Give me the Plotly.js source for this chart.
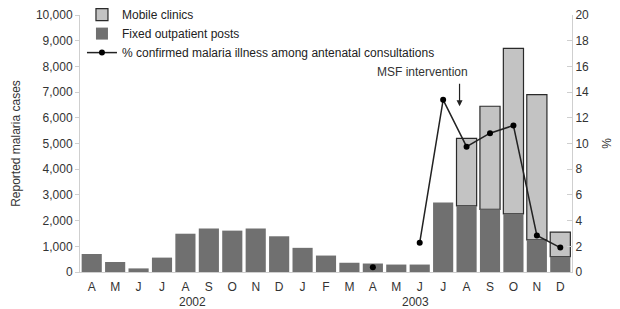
<!DOCTYPE html>
<html><head><meta charset="utf-8">
<script src="https://cdn.plot.ly/plotly-3.0.1.min.js"></script>
<style>html,body{margin:0;padding:0;background:#fff}#c{width:620px;height:309px}</style>
</head><body><div id="c"></div>
<script>
const monthLabels = ["A","M","J","J","A","S","O","N","D","J","F","M","A","M","J","J","A","S","O","N","D"];
const fixedPosts = [700,390,140,560,1490,1690,1610,1690,1390,940,640,360,330,290,290,2700,2570,2440,2260,1250,600];
const mobileClinics = [null,null,null,null,null,null,null,null,null,null,null,null,null,null,null,null,2630,4010,6440,5650,950];
const pctMalaria = [null,null,null,null,null,null,null,null,null,null,null,null,0.37,null,2.28,13.4,9.75,10.8,11.4,2.85,1.9];
const years = ["2002","2003"];

const xs = monthLabels.map((_, i) => i);
const font = {family: "Liberation Sans, Arial, sans-serif", size: 12, color: "#333"};

const traces = [
  {type: "bar", name: "Mobile clinics", x: xs, y: mobileClinics, base: fixedPosts,
   marker: {color: "#c3c3c3", line: {color: "#2a2a2a", width: 1.2}}, legendrank: 1},
  {type: "bar", name: "Fixed outpatient posts", x: xs, y: fixedPosts,
   marker: {color: "#707070", line: {width: 0}}, legendrank: 2},
  {type: "scatter", mode: "lines+markers", name: "% confirmed malaria illness among antenatal consultations",
   x: xs, y: pctMalaria, yaxis: "y2", connectgaps: false,
   line: {color: "#222", width: 1.5}, marker: {color: "#000", size: 6}, legendrank: 3}
];

const layout = {
  width: 620, height: 309,
  margin: {l: 80, r: 48, t: 15, b: 37, autoexpand: false},
  paper_bgcolor: "#fff", plot_bgcolor: "#fff",
  font: font,
  barmode: "overlay", bargap: 0.14,
  showlegend: true,
  legend: {x: 0.004, y: 1.058, xanchor: "left", yanchor: "top", bgcolor: "rgba(0,0,0,0)",
           font: {family: font.family, size: 12, color: "#222"}, tracegroupgap: 0, traceorder: "normal"},
  xaxis: {range: [-0.5, 20.5], tickvals: xs, ticktext: monthLabels, showgrid: false, zeroline: false,
          showline: true, linecolor: "#cfcfcf", linewidth: 1, ticks: "", tickfont: font, fixedrange: true,
          ticklabelstandoff: 4},
  yaxis: {range: [0, 10000], tickvals: [0,1000,2000,3000,4000,5000,6000,7000,8000,9000,10000],
          tickformat: ",d", showgrid: false, zeroline: false, showline: true, linecolor: "#cfcfcf",
          ticks: "outside", ticklen: 4, tickcolor: "#cfcfcf", tickfont: font,
          title: {text: "Reported malaria cases", font: font, standoff: 12}},
  yaxis2: {range: [0, 20], overlaying: "y", side: "right", tickvals: [0,2,4,6,8,10,12,14,16,18,20],
           showgrid: false, zeroline: false, showline: true, linecolor: "#cfcfcf",
           ticks: "inside", ticklen: 5, tickcolor: "#cfcfcf", tickfont: font,
           title: {text: "%", font: font, standoff: 14}},
  annotations: [
    {xref: "x", yref: "paper", x: 4.3, y: -0.117, yanchor: "middle", text: years[0], showarrow: false, font: font},
    {xref: "x", yref: "paper", x: 13.8, y: -0.117, yanchor: "middle", text: years[1], showarrow: false, font: font},
    {xref: "x", yref: "y2", x: 14.1, y: 15.6, text: "MSF intervention", showarrow: false, font: font},
    {xref: "x", yref: "y2", x: 15.7, y: 12.9, text: "", showarrow: true, ax: 0, ay: -24,
     arrowhead: 2, arrowsize: 1, arrowwidth: 1.2, arrowcolor: "#222"}
  ]
};
Plotly.newPlot("c", traces, layout, {displayModeBar: false, staticPlot: true});
</script></body></html>
